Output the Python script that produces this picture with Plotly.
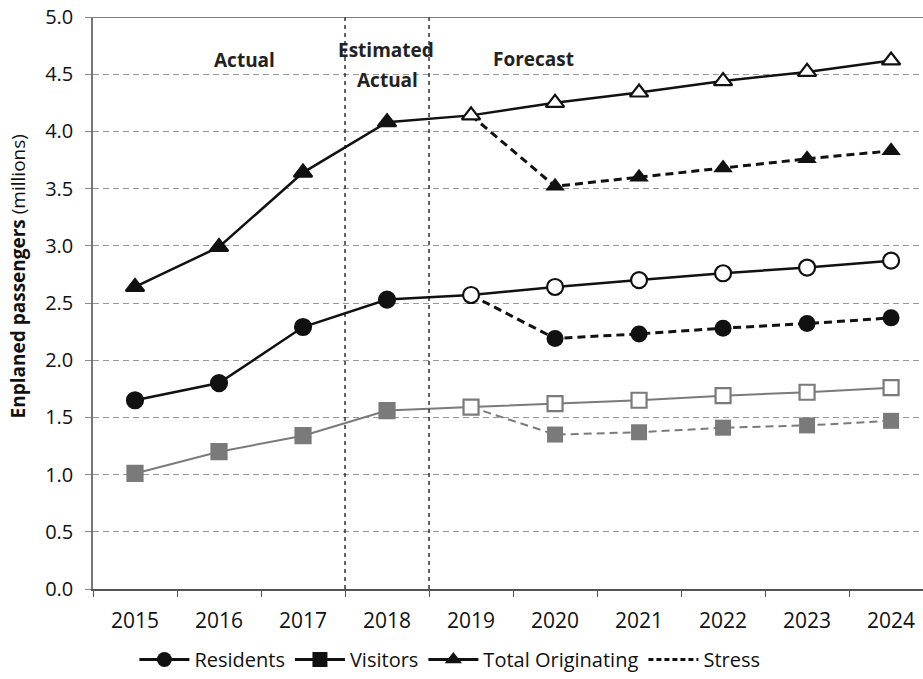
import plotly.graph_objects as go

# ---- data (millions of enplaned passengers) ----
years = ["2015", "2016", "2017", "2018", "2019", "2020", "2021", "2022", "2023", "2024"]

total_base = [2.64, 2.99, 3.64, 4.08, 4.14, 4.25, 4.34, 4.44, 4.52, 4.62]
residents_base = [1.65, 1.80, 2.29, 2.53, 2.57, 2.64, 2.70, 2.76, 2.81, 2.87]
visitors_base = [1.01, 1.20, 1.34, 1.56, 1.59, 1.62, 1.65, 1.69, 1.72, 1.76]

stress_years = ["2019", "2020", "2021", "2022", "2023", "2024"]
total_stress = [4.14, 3.52, 3.60, 3.68, 3.76, 3.83]
residents_stress = [2.57, 2.19, 2.23, 2.28, 2.32, 2.37]
visitors_stress = [1.59, 1.35, 1.37, 1.41, 1.43, 1.47]

n_actual = 4  # 2015-2018 are actual / estimated actual

BLACK = "#111111"
GRAY = "#7a7a7a"
FONT = "Open Sans"

fig = go.Figure()


def stress_traces(y, symbol, color, lw, size):
    line = go.Scatter(
        x=stress_years, y=y, mode="lines", showlegend=False,
        line=dict(color=color, width=lw, dash="8px,5px"), hoverinfo="skip",
    )
    # the first stress point sits on the baseline marker, so it gets no marker
    marks = go.Scatter(
        x=stress_years[1:], y=y[1:], mode="markers", showlegend=False,
        marker=dict(symbol=symbol, size=size, color=color, line=dict(width=0)),
        hoverinfo="skip",
    )
    return [line, marks]


def base_trace(y, symbol, color, lw, actual_fill, size):
    fills = [actual_fill] * n_actual + ["white"] * (len(y) - n_actual)
    return go.Scatter(
        x=years, y=y, mode="lines+markers", showlegend=False,
        line=dict(color=color, width=lw),
        marker=dict(symbol=symbol, size=size, color=fills,
                    line=dict(color=color, width=2.2)),
        hoverinfo="skip",
    )


fig.add_traces(stress_traces(visitors_stress, "square", GRAY, 2, 16))
fig.add_trace(base_trace(visitors_base, "square", GRAY, 2, GRAY, 15))
fig.add_traces(stress_traces(residents_stress, "circle", BLACK, 3, 17))
fig.add_trace(base_trace(residents_base, "circle", BLACK, 2.5, BLACK, 16))
fig.add_traces(stress_traces(total_stress, "triangle-up", BLACK, 3, 17))
fig.add_trace(base_trace(total_base, "triangle-up", BLACK, 2.5, BLACK, 16))

# legend entries
for name, sym, dash in [("Residents", "circle", "solid"),
                        ("Visitors", "square", "solid"),
                        ("Total Originating", "triangle-up", "solid"),
                        ("Stress", None, "5px,3px")]:
    fig.add_trace(go.Scatter(
        x=[None], y=[None], name=name,
        mode="lines+markers" if sym else "lines",
        line=dict(color=BLACK, width=3, dash=dash),
        marker=dict(symbol=sym or "circle", size=15, color=BLACK),
    ))

# period separators
for xpos in (2.5, 3.5):
    fig.add_shape(type="line", xref="x", yref="y", x0=xpos, x1=xpos, y0=0, y1=5,
                  line=dict(color=BLACK, width=1.3, dash="4px,4px"), layer="above")
# top border
fig.add_shape(type="line", xref="paper", yref="y", x0=0, x1=1, y0=5, y1=5,
              line=dict(color="#555555", width=1.5))

period_labels = [(1.30, 4.62, "Actual"), (2.99, 4.71, "Estimated"),
                 (3.01, 4.45, "Actual"), (4.74, 4.63, "Forecast")]
for x, y, t in period_labels:
    fig.add_annotation(x=x, y=y, xref="x", yref="y", text=f"<b>{t}</b>",
                       showarrow=False, font=dict(family=FONT, size=19, color="#222"))

# y-axis title, set slightly above the vertical middle of the plot
fig.add_annotation(x=-0.09, y=0.547, xref="paper", yref="paper", textangle=-90,
                   text="<b>Enplaned passengers</b> (millions)", showarrow=False,
                   xanchor="center", yanchor="middle",
                   font=dict(family=FONT, size=19, color=BLACK))

fig.update_layout(
    width=923, height=679,
    margin=dict(l=93, r=0, t=17, b=90),
    paper_bgcolor="white", plot_bgcolor="white",
    font=dict(family=FONT, color=BLACK),
    showlegend=True,
    legend=dict(orientation="h", x=0.43, xanchor="center", y=-0.09, yanchor="top",
                font=dict(family=FONT, size=20, color=BLACK),
                itemwidth=50, tracegroupgap=0),
    xaxis=dict(type="category", categoryorder="array", categoryarray=years,
               range=[-0.5, 9.38], tickson="boundaries", ticks="outside",
               ticklen=6, tickcolor="#555", showline=True, linecolor="#555",
               linewidth=1.5, showgrid=False, zeroline=False, automargin=False,
               ticklabelstandoff=12,
               tickfont=dict(family=FONT, size=21, color=BLACK)),
    yaxis=dict(range=[0, 5], dtick=0.5, tickformat=".1f", ticks="outside",
               ticklen=6, tickcolor="#888", showline=True, linecolor="#777",
               linewidth=1.5, showgrid=True, gridcolor="#999999", griddash="6px,4px",
               gridwidth=1.2, zeroline=False, ticklabelstandoff=8, automargin=False,
               tickfont=dict(family=FONT, size=20, color=BLACK)),
)

fig.write_html("out.html")
